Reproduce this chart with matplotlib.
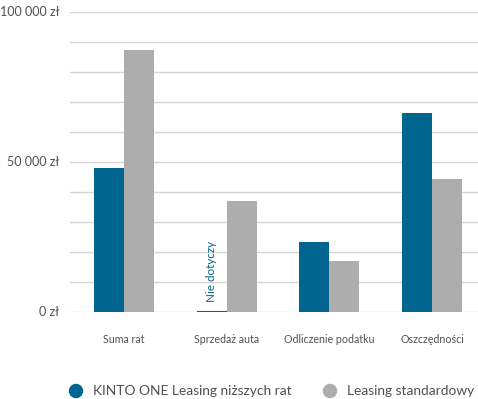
import matplotlib
matplotlib.use("Agg")
import matplotlib.pyplot as plt
import numpy as np

plt.rcParams['font.family'] = ['Lato', 'DejaVu Sans']

# data
categories = ["Suma rat", "Sprzedaż auta", "Odliczenie podatku", "Oszczędności"]
kinto = [48000, 0, 23300, 66500]
standard = [87300, 37000, 17000, 44300]
series_names = ["KINTO ONE Leasing niższych rat", "Leasing standardowy"]
ytick_vals = [0, 50000, 100000]
ytick_labels = ["0 zł", "50 000 zł", "100 000 zł"]
na_label = "Nie dotyczy"

blue = "#00668f"
grey = "#adadad"
txt = "#505050"

fig = plt.figure(figsize=(4.78, 3.99), dpi=100)
ax = fig.add_axes([70/478, 87/399, 408/478, 300/399])

x = np.arange(len(categories))
w = 0.292
ax.bar(x - w/2, kinto, w, color=blue, zorder=3)
ax.bar(x + w/2, standard, w, color=grey, zorder=3)
# thin line where value is not applicable
ax.plot([1 - w, 1], [0, 0], color=blue, lw=1.5, zorder=4, solid_capstyle='butt')
ax.text(1 - w/2, 3500, na_label, rotation=90, color=blue, fontsize=8.4,
        ha='center', va='bottom')

ax.set_xlim(-0.526, 3.447)
ax.set_ylim(0, 100000)
ax.set_yticks(np.arange(0, 100001, 10000))
ax.set_yticklabels(["" for _ in range(11)])
ax.grid(axis='y', color='#d6d6d6', lw=1, zorder=0)
for v, lab in zip(ytick_vals, ytick_labels):
    ax.text(-0.63, v, lab, ha='right', va='center', fontsize=9, color=txt)
ax.tick_params(axis='y', length=0)
ax.set_xticks(x)
ax.set_xticklabels(categories, fontsize=7.7, color=txt)
ax.tick_params(axis='x', length=0, pad=16)
for s in ax.spines.values():
    s.set_visible(False)

# legend drawn by hand in pixel coords
ax2 = fig.add_axes([0, 0, 1, 1], facecolor='none')
ax2.set_xlim(0, 478)
ax2.set_ylim(399, 0)
ax2.axis('off')
ax2.scatter([76, 330], [391, 391], s=88, c=[blue, grey], zorder=5)
ax2.text(93, 391, series_names[0], va='center', ha='left', fontsize=9.9, color=txt)
ax2.text(347, 391, series_names[1], va='center', ha='left', fontsize=9.9, color=txt)

fig.savefig("out.png", dpi=100)
